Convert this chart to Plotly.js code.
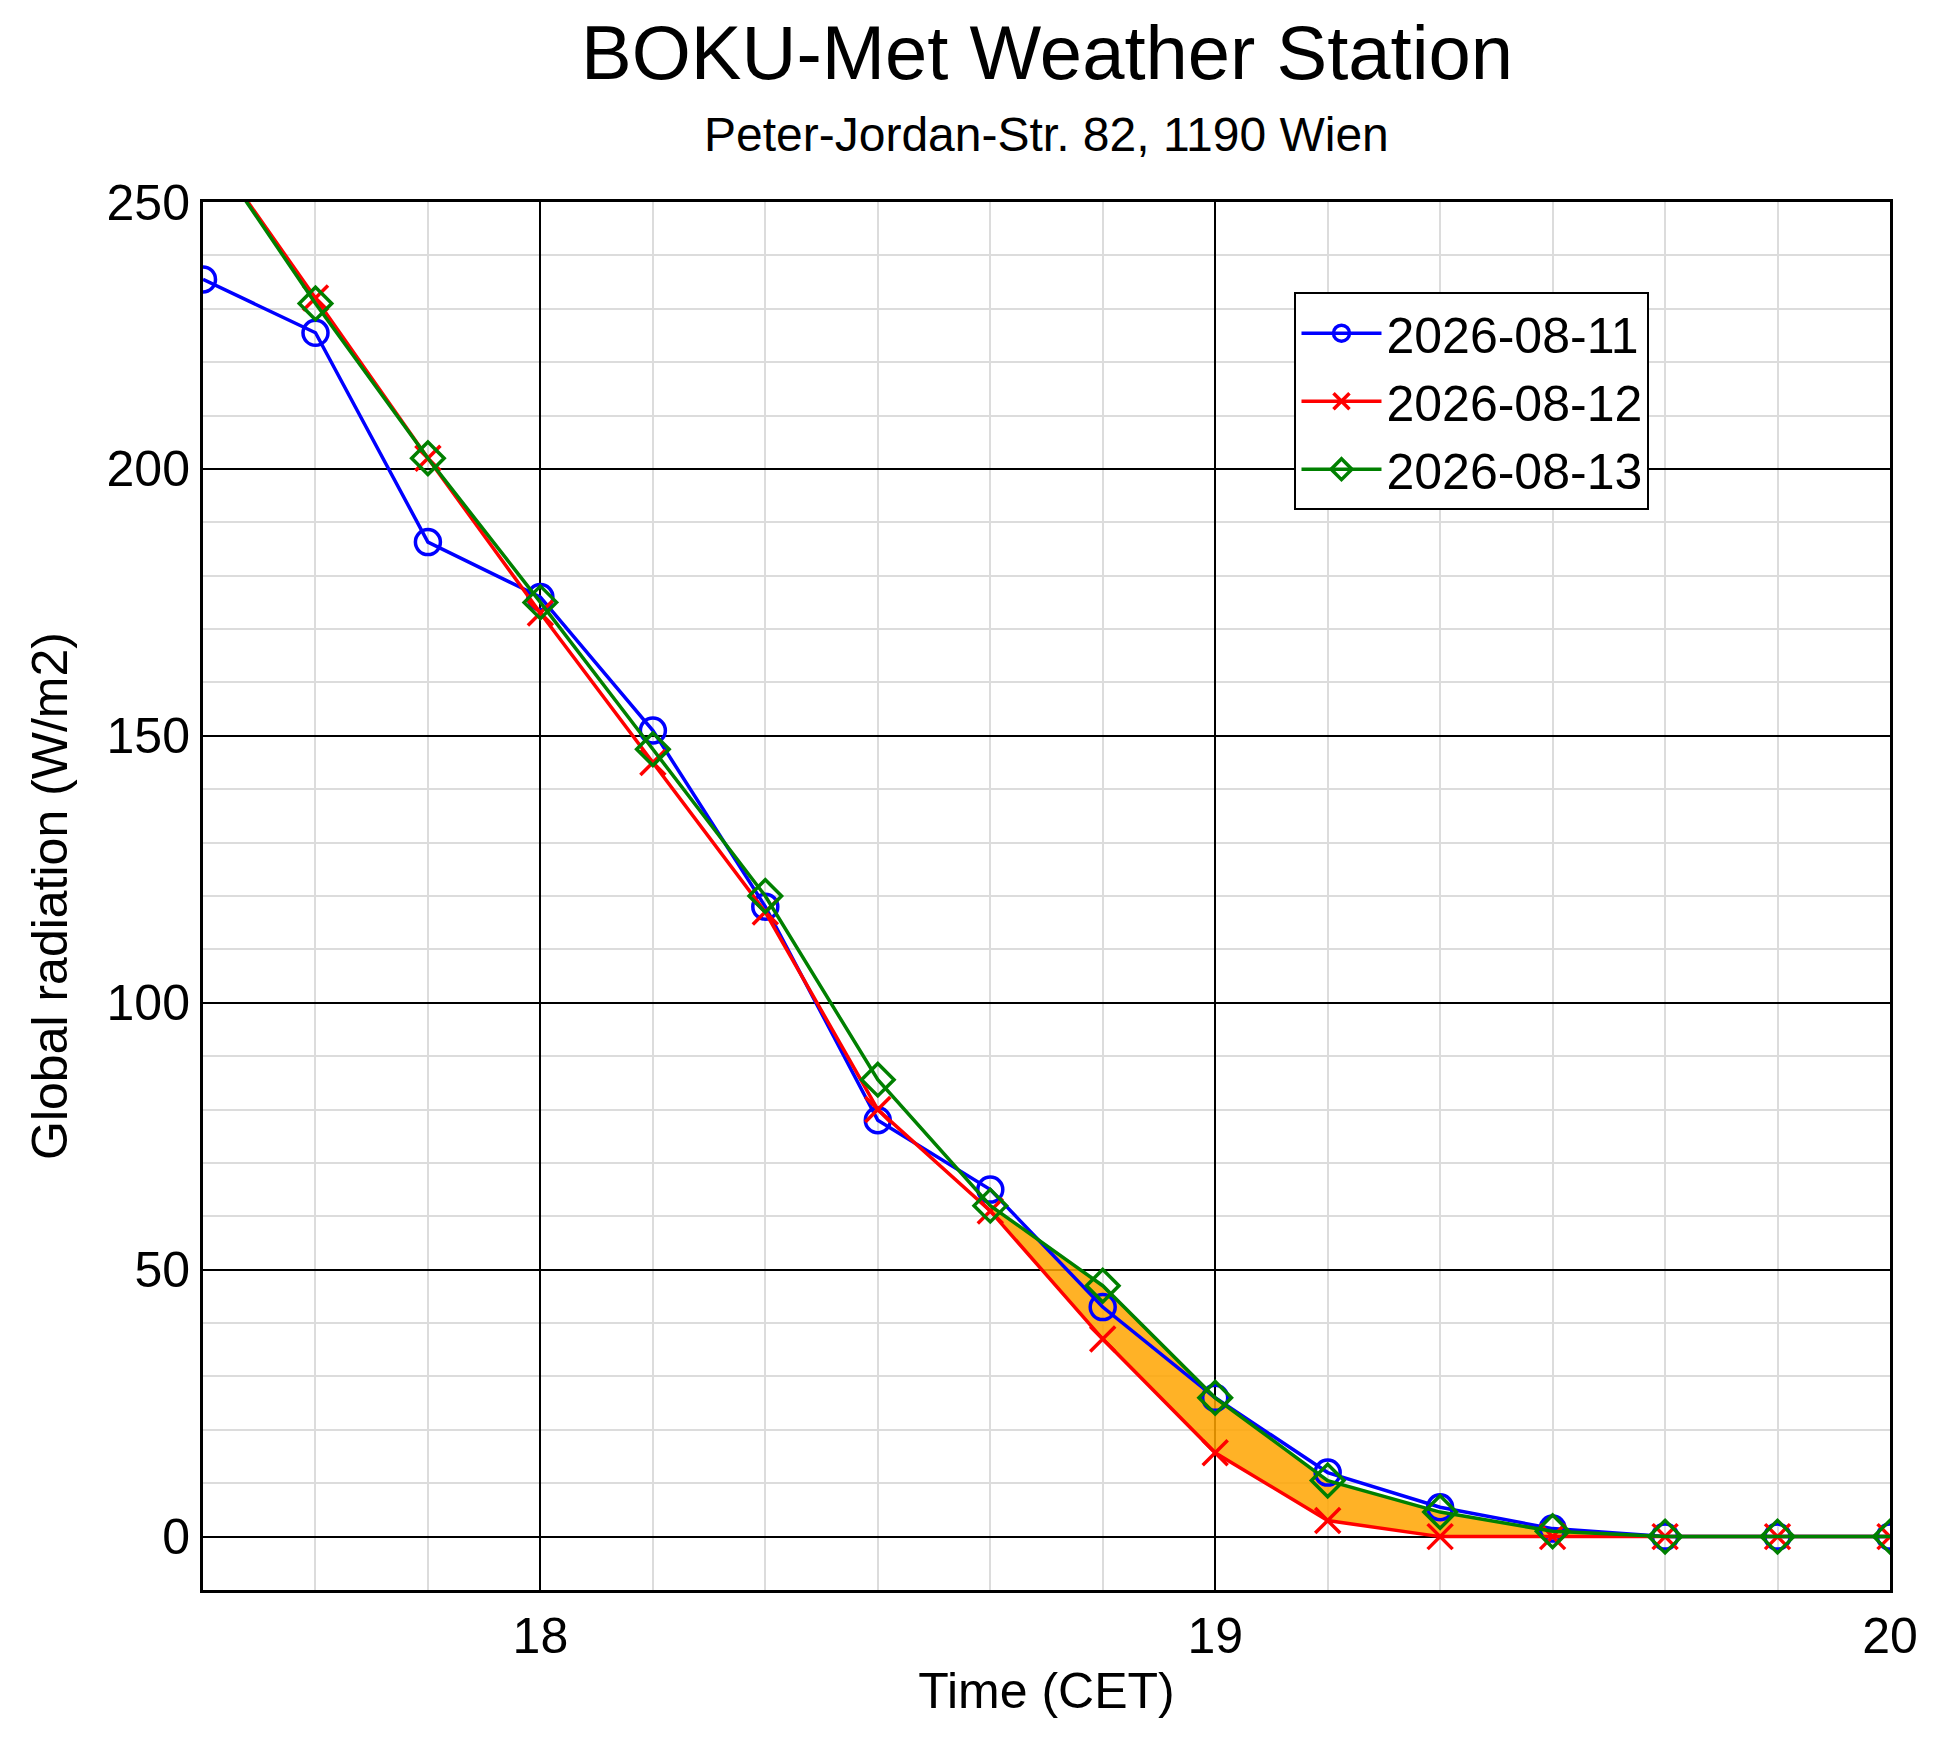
<!DOCTYPE html>
<html><head><meta charset="utf-8">
<script src="https://cdn.plot.ly/plotly-3.0.1.min.js"></script>
<style>body{margin:0}</style></head>
<body><div id="c" style="width:1938px;height:1746px"></div>
<script>
const times = [17.5,17.6667,17.8333,18,18.1667,18.3333,18.5,18.6667,18.8333,19,19.1667,19.3333,19.5,19.6667,19.8333,20];
const day1 = [235.5,225.5,186.3,176,151,118,78,65,43,26,12,5.5,1.5,0,0,0];
const day2 = [262,232,202,173,145,117,80,61,37,15.7,3,0,0,0,0,0];
const day3 = [262,231,202,175,147.5,120,85.6,62,47,26,10.5,4.6,1,0,0,0];
const names = ['2026-08-11','2026-08-12','2026-08-13'];
const fillStart = 7;
const f = 'Liberation Sans, Arial, sans-serif';
const traces = [
 {x:times.slice(fillStart), y:day2.slice(fillStart), mode:'lines', line:{width:0}, showlegend:false, hoverinfo:'skip'},
 {x:times.slice(fillStart), y:day3.slice(fillStart), mode:'lines', line:{width:0}, fill:'tonexty', fillcolor:'rgba(255,165,0,0.85)', showlegend:false, hoverinfo:'skip'},
 {x:times, y:day1, name:names[0], mode:'lines+markers', line:{color:'blue',width:3.5}, marker:{symbol:'circle-open',size:25,color:'blue',line:{width:3.5}}},
 {x:times, y:day2, name:names[1], mode:'lines+markers', line:{color:'red',width:3.5}, marker:{symbol:'x-thin-open',size:25,color:'red',line:{width:3.5,color:'red'}}},
 {x:times, y:day3, name:names[2], mode:'lines+markers', line:{color:'green',width:3.5}, marker:{symbol:'diamond-open',size:25,color:'green',line:{width:3.5}}}
];
const ax = {showline:true, mirror:true, linecolor:'black', linewidth:3, gridcolor:'black', gridwidth:2, zeroline:false, ticks:'', tickfont:{size:50,color:'black'}};
Plotly.newPlot('c', traces, {
 width:1938, height:1746,
 margin:{l:203,r:48,t:202,b:156},
 paper_bgcolor:'white', plot_bgcolor:'white',
 font:{family:f,color:'black'},
 annotations:[
  {text:'BOKU-Met Weather Station', xref:'paper', yref:'paper', x:0.5, y:1, yshift:150, xanchor:'center', yanchor:'middle', showarrow:false, font:{size:76}},
  {text:'Peter-Jordan-Str. 82, 1190 Wien', xref:'paper', yref:'paper', x:0.5, y:1, yshift:68, xanchor:'center', yanchor:'middle', showarrow:false, font:{size:48}}
 ],
 xaxis:Object.assign({}, ax, {range:[17.5,20], tickvals:[18,19,20], title:{text:'Time (CET)', font:{size:50}, standoff:10}, minor:{dtick:1/6, tick0:17.5, showgrid:true, gridcolor:'#dcdcdc', gridwidth:2}}),
 yaxis:Object.assign({}, ax, {range:[-10,250], tickvals:[0,50,100,150,200,250], title:{text:'Global radiation (W/m2)', font:{size:50}, standoff:24}, minor:{dtick:10, showgrid:true, gridcolor:'#dcdcdc', gridwidth:2}}),
 legend:{x:0.647, y:0.935, xanchor:'left', yanchor:'top', traceorder:'normal', bordercolor:'black', borderwidth:2, bgcolor:'white', font:{size:50}, itemwidth:80},
 showlegend:true
}, {displayModeBar:false});
</script></body></html>
